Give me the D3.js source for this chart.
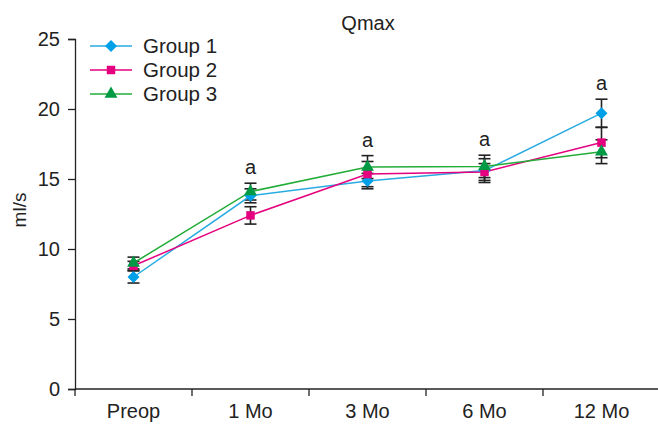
<!DOCTYPE html>
<html>
<head>
<meta charset="utf-8">
<script src="https://cdn.jsdelivr.net/npm/d3@7"></script>
<style>
  body { margin: 0; background: #fff; }
  text { font-family: "Liberation Sans", Arial, sans-serif; fill: #222; }
</style>
</head>
<body>
<svg id="chart" width="658" height="425"></svg>
<script>
var categories = ["Preop", "1 Mo", "3 Mo", "6 Mo", "12 Mo"];
var yTicks = [0, 5, 10, 15, 20, 25];

var group1 = [8.0, 13.8, 14.85, 15.6, 19.7];
var group1Err = [0.43, 0.5, 0.55, 0.85, 1.0];
var group2 = [8.8, 12.4, 15.35, 15.5, 17.6];
var group2Err = [0.32, 0.62, 0.9, 0.6, 1.08];
var group3 = [9.0, 14.1, 15.85, 15.9, 16.95];
var group3Err = [0.42, 0.6, 0.82, 0.8, 0.85];

var sigLabels = ["", "a", "a", "a", "a"];

var series = [
  { name: "Group 1", values: group1, err: group1Err, line: "#29abe2", fill: "#00a0e9", symbol: d3.symbolSquare, size: 72, rotate: 45 },
  { name: "Group 2", values: group2, err: group2Err, line: "#e4007f", fill: "#e4007f", symbol: d3.symbolSquare, size: 72, rotate: 0 },
  { name: "Group 3", values: group3, err: group3Err, line: "#22ac38", fill: "#009944", symbol: d3.symbolTriangle, size: 72, rotate: 0 }
];

var svg = d3.select("#chart");
var x = d3.scaleBand().domain(categories).range([75, 660]);
var y = d3.scaleLinear().domain([0, 25]).range([389, 39]);

// axes
var yAxis = svg.append("g").attr("transform", "translate(75,0)")
  .call(d3.axisLeft(y).tickValues(yTicks).tickSize(7).tickPadding(8));
var xAxis = svg.append("g").attr("transform", "translate(0,389)")
  .call(d3.axisBottom(x).tickSize(0).tickPadding(15));
[yAxis, xAxis].forEach(function (g) {
  g.select(".domain").attr("stroke", "#222").attr("stroke-width", 1.3);
  g.selectAll(".tick line").attr("stroke", "#222").attr("stroke-width", 1.3);
  g.selectAll("text").style("font-size", "20px").attr("fill", "#222")
    .style("font-family", "'Liberation Sans', Arial, sans-serif");
});
xAxis.select(".domain").attr("d", "M75,0H660");
// x-axis boundary ticks
xAxis.selectAll(".bound").data(categories).enter().append("line")
  .attr("x1", function (d) { return x(d); }).attr("x2", function (d) { return x(d); })
  .attr("y1", 0).attr("y2", 7).attr("stroke", "#222").attr("stroke-width", 1.3);

// title & y label
svg.append("text").attr("x", 368).attr("y", 30).attr("text-anchor", "middle")
  .style("font-size", "20px").text("Qmax");
svg.append("text").attr("transform", "translate(26,210) rotate(-90)")
  .attr("text-anchor", "middle").style("font-size", "19px").text("ml/s");

var cx = function (i) { return x(categories[i]) + x.bandwidth() / 2; };

// error bars
series.forEach(function (s) {
  var g = svg.append("g").attr("stroke", "#222").attr("stroke-width", 1.6);
  s.values.forEach(function (v, i) {
    var lo = y(v - s.err[i]), hi = y(v + s.err[i]), c = cx(i);
    g.append("line").attr("x1", c).attr("x2", c).attr("y1", lo).attr("y2", hi);
    g.append("line").attr("x1", c - 6).attr("x2", c + 6).attr("y1", lo).attr("y2", lo);
    g.append("line").attr("x1", c - 6).attr("x2", c + 6).attr("y1", hi).attr("y2", hi);
  });
});

// lines and markers
var line = d3.line().x(function (d, i) { return cx(i); }).y(function (d) { return y(d); });
series.forEach(function (s) {
  svg.append("path").datum(s.values).attr("d", line)
    .attr("fill", "none").attr("stroke", s.line).attr("stroke-width", 1.5);
});
series.forEach(function (s) {
  svg.selectAll(null).data(s.values).enter().append("path")
    .attr("d", d3.symbol().type(s.symbol).size(s.size))
    .attr("transform", function (d, i) { return "translate(" + cx(i) + "," + y(d) + ") rotate(" + s.rotate + ")"; })
    .attr("fill", s.fill);
});

// significance letters above the highest error bar
sigLabels.forEach(function (t, i) {
  if (!t) return;
  var top = d3.max(series, function (s) { return s.values[i] + s.err[i]; });
  svg.append("text").attr("x", cx(i)).attr("y", y(top) - 9)
    .attr("text-anchor", "middle").style("font-size", "20px").text(t);
});

// legend
var legend = svg.append("g");
series.forEach(function (s, i) {
  var ly = 46 + i * 24;
  legend.append("line").attr("x1", 90).attr("x2", 132).attr("y1", ly).attr("y2", ly)
    .attr("stroke", s.line).attr("stroke-width", 1.5);
  legend.append("path").attr("d", d3.symbol().type(s.symbol).size(s.size))
    .attr("transform", "translate(111," + ly + ") rotate(" + s.rotate + ")").attr("fill", s.fill);
  legend.append("text").attr("x", 143).attr("y", ly + 7).style("font-size", "20.5px").text(s.name);
});
</script>
</body>
</html>
